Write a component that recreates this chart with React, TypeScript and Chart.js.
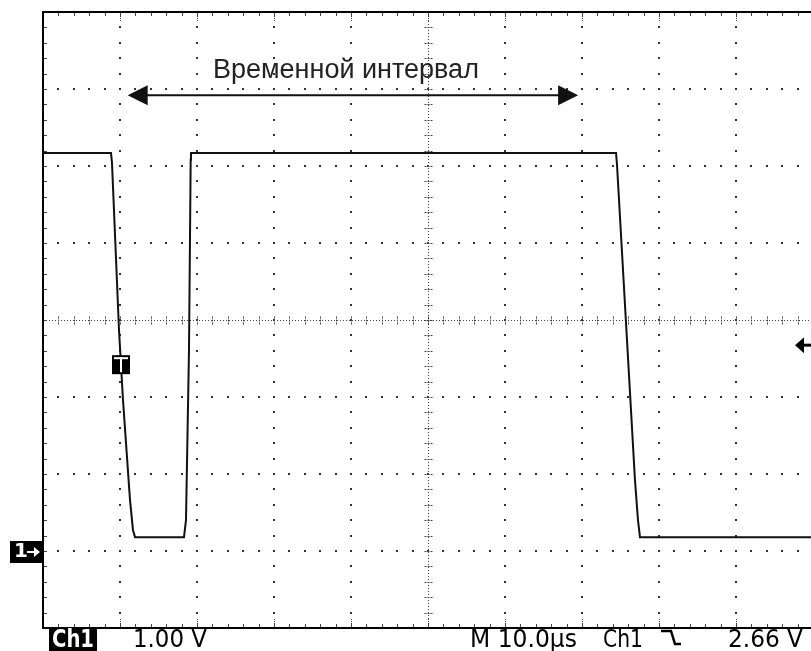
import React, { useEffect, useRef } from "react";
import { Chart, registerables } from "chart.js";

Chart.register(...registerables);

// Horizontal axis: time in µs (10 µs / div), vertical: volts (1 V / div)
const xGridUs = [0, 10, 20, 30, 40, 50, 60, 70, 80, 90, 100];
const yGridV = [-1, 0, 1, 2, 3, 4, 5, 6, 7];

// Ch1 trace (time µs, volts)
const timeUs = [0, 8.83, 8.96, 9.87, 10.39, 11.3, 11.69, 11.95, 18.31, 18.57, 18.96, 19.18, 19.22, 74.42, 74.55, 76.88, 77.27, 77.53, 100];
const volts = [5.17, 5.17, 5.04, 2.87, 1.96, 0.66, 0.27, 0.18, 0.18, 0.4, 2.61, 5.08, 5.17, 5.17, 5.01, 0.92, 0.4, 0.18, 0.18];

// Annotation: time interval arrow
const intervalLabel = "Временной интервал";
const intervalStartUs = 11.0;
const intervalEndUs = 69.5;
const intervalLevelV = 5.92;

// Trigger
const triggerTimeUs = 10;
const triggerLevelV = 2.66;
const groundV = 0;

// Readout texts
const chLabel = "Ch1";
const voltsPerDivText = "1.00 V";
const timePerDivText = "M 10.0µs";
const trigSourceText = "Ch1";
const trigLevelText = "2.66 V";

function drawFitted(ctx: CanvasRenderingContext2D, text: string, x: number, baseline: number, width: number, font: string, color: string) {
  ctx.save();
  ctx.font = font;
  ctx.fillStyle = color;
  ctx.textBaseline = "alphabetic";
  ctx.textAlign = "left";
  const w = ctx.measureText(text).width;
  ctx.translate(x, baseline);
  ctx.scale(width / w, 1);
  ctx.fillText(text, 0, 0);
  ctx.restore();
}

const graticulePlugin = {
  id: "graticule",
  beforeDatasetsDraw(chart: any) {
    const ctx: CanvasRenderingContext2D = chart.ctx;
    const xs = chart.scales.x;
    const ys = chart.scales.y;
    const { left, top, bottom } = chart.chartArea;
    const px = (v: number) => xs.getPixelForValue(v);
    const py = (v: number) => ys.getPixelForValue(v);
    const xDiv = xGridUs[1] - xGridUs[0];
    const yDiv = yGridV[1] - yGridV[0];
    const xMin = xGridUs[0], xMax = xGridUs[xGridUs.length - 1];
    const yMin = yGridV[0], yMax = yGridV[yGridV.length - 1];
    const xMid = xGridUs[Math.floor(xGridUs.length / 2)];
    const yMid = yGridV[Math.floor(yGridV.length / 2)];
    const xMinor: number[] = [];
    const yMinor: number[] = [];
    for (let i = 0; i <= (xGridUs.length - 1) * 5; i++) xMinor.push(xMin + (i * xDiv) / 5);
    for (let i = 0; i <= (yGridV.length - 1) * 5; i++) yMinor.push(yMin + (i * yDiv) / 5);

    ctx.save();
    ctx.fillStyle = "#333";
    xGridUs.forEach((gx) => {
      if (gx === xMin || gx === xMax || gx === xMid) return;
      const X = Math.round(px(gx));
      yMinor.forEach((v) => ctx.fillRect(X - 1, Math.round(py(v)) - 1, 2, 2));
    });
    yGridV.forEach((gy) => {
      if (gy === yMin || gy === yMax || gy === yMid) return;
      const Y = Math.round(py(gy));
      xMinor.forEach((t) => ctx.fillRect(Math.round(px(t)) - 1, Y - 1, 2, 2));
    });

    // center crosshair
    ctx.strokeStyle = "#444";
    ctx.lineWidth = 1;
    const cx = Math.round(px(xMid)) + 0.5;
    const cy = Math.round(py(yMid)) + 0.5;
    ctx.setLineDash([1, 2]);
    ctx.beginPath();
    ctx.moveTo(cx, top);
    ctx.lineTo(cx, bottom);
    ctx.moveTo(left, cy);
    ctx.lineTo(px(xMax), cy);
    ctx.stroke();
    ctx.setLineDash([2, 1]);
    ctx.beginPath();
    yMinor.forEach((v) => {
      const Y = Math.round(py(v)) + 0.5;
      ctx.moveTo(cx - 4, Y);
      ctx.lineTo(cx + 5, Y);
    });
    xMinor.forEach((t) => {
      const X = Math.round(px(t)) + 0.5;
      ctx.moveTo(X, cy - 4);
      ctx.lineTo(X, cy + 5);
    });
    ctx.stroke();

    // border ticks
    ctx.setLineDash([]);
    ctx.beginPath();
    xMinor.forEach((t) => {
      const X = Math.round(px(t)) + 0.5;
      ctx.moveTo(X, top);
      ctx.lineTo(X, top + 4);
      ctx.moveTo(X, bottom);
      ctx.lineTo(X, bottom - 4);
    });
    yMinor.forEach((v) => {
      const Y = Math.round(py(v)) + 0.5;
      ctx.moveTo(left, Y);
      ctx.lineTo(left + 4, Y);
    });
    ctx.stroke();
    ctx.setLineDash([1, 1]);
    ctx.beginPath();
    xGridUs.forEach((gx) => {
      const X = Math.round(px(gx)) + 0.5;
      ctx.moveTo(X, top);
      ctx.lineTo(X, top + 10);
      ctx.moveTo(X, bottom);
      ctx.lineTo(X, bottom - 10);
    });
    ctx.stroke();
    ctx.setLineDash([]);

    // frame
    ctx.strokeStyle = "#000";
    ctx.lineWidth = 2;
    ctx.beginPath();
    ctx.moveTo(px(xMax) + 5, top);
    ctx.lineTo(left, top);
    ctx.lineTo(left, bottom);
    ctx.lineTo(px(xMax) + 5, bottom);
    ctx.stroke();
    ctx.restore();
  },
  afterDatasetsDraw(chart: any) {
    const ctx: CanvasRenderingContext2D = chart.ctx;
    const xs = chart.scales.x;
    const ys = chart.scales.y;
    const { left, bottom } = chart.chartArea;
    const px = (v: number) => xs.getPixelForValue(v);
    const py = (v: number) => ys.getPixelForValue(v);
    ctx.save();

    // interval double arrow
    const ax1 = px(intervalStartUs);
    const ax2 = px(intervalEndUs);
    const ay = py(intervalLevelV);
    ctx.strokeStyle = "#111";
    ctx.fillStyle = "#111";
    ctx.lineWidth = 2;
    ctx.beginPath();
    ctx.moveTo(ax1 + 15, ay);
    ctx.lineTo(ax2 - 15, ay);
    ctx.stroke();
    ctx.beginPath();
    ctx.moveTo(ax1, ay);
    ctx.lineTo(ax1 + 20, ay - 10);
    ctx.lineTo(ax1 + 20, ay + 10);
    ctx.closePath();
    ctx.fill();
    ctx.beginPath();
    ctx.moveTo(ax2, ay);
    ctx.lineTo(ax2 - 20, ay - 10);
    ctx.lineTo(ax2 - 20, ay + 10);
    ctx.closePath();
    ctx.fill();
    ctx.font = '27px "Liberation Sans", Arial, sans-serif';
    ctx.fillStyle = "#222";
    ctx.textAlign = "center";
    ctx.textBaseline = "alphabetic";
    ctx.fillText(intervalLabel, (ax1 + ax2) / 2 - 7, ay - 17);

    // trigger position marker "T"
    const tx = px(triggerTimeUs) + 1;
    const ty = py(triggerLevelV) + 19;
    ctx.fillStyle = "#000";
    ctx.fillRect(tx - 9, ty - 10, 18, 19);
    ctx.fillStyle = "#fff";
    ctx.fillRect(tx - 7, ty - 8, 14, 2);
    ctx.fillRect(tx - 1, ty - 8, 2, 15);

    // ground marker "1→"
    const gy = py(groundV);
    ctx.fillStyle = "#000";
    ctx.fillRect(10, gy - 10, left - 10, 22);
    ctx.fillStyle = "#fff";
    ctx.font = 'bold 20px "DejaVu Sans", sans-serif';
    ctx.textAlign = "left";
    ctx.textBaseline = "middle";
    ctx.fillText("1", 14, gy + 1);
    ctx.strokeStyle = "#fff";
    ctx.lineWidth = 2;
    ctx.beginPath();
    ctx.moveTo(27, gy + 1);
    ctx.lineTo(37, gy + 1);
    ctx.stroke();
    ctx.beginPath();
    ctx.moveTo(40, gy + 1);
    ctx.lineTo(34, gy - 4);
    ctx.lineTo(34, gy + 6);
    ctx.closePath();
    ctx.fill();

    // trigger level arrow on right edge
    const ly = py(triggerLevelV) - 1;
    ctx.fillStyle = "#000";
    ctx.strokeStyle = "#000";
    ctx.lineWidth = 3;
    ctx.beginPath();
    ctx.moveTo(802, ly);
    ctx.lineTo(815, ly);
    ctx.stroke();
    ctx.beginPath();
    ctx.moveTo(795, ly);
    ctx.lineTo(804, ly - 8);
    ctx.lineTo(804, ly + 8);
    ctx.closePath();
    ctx.fill();

    // readouts below the graticule
    const base = bottom + 19;
    ctx.fillStyle = "#000";
    ctx.fillRect(49, bottom + 1, 48, 30);
    drawFitted(ctx, chLabel, 52, base, 42, 'bold 25px "DejaVu Sans", sans-serif', "#fff");
    const readFont = '25px "DejaVu Sans", sans-serif';
    drawFitted(ctx, voltsPerDivText, 133, base, 74, readFont, "#000");
    drawFitted(ctx, timePerDivText, 470, base, 107, readFont, "#000");
    drawFitted(ctx, trigSourceText, 603, base, 40, readFont, "#000");
    // falling slope symbol
    ctx.strokeStyle = "#000";
    ctx.lineWidth = 2.5;
    ctx.beginPath();
    ctx.moveTo(661, base - 16);
    ctx.lineTo(671, base - 16);
    ctx.lineTo(675, base - 3);
    ctx.lineTo(681, base - 3);
    ctx.stroke();
    drawFitted(ctx, trigLevelText, 728, base, 75, readFont, "#000");

    ctx.restore();
  },
};

export default function App() {
  const canvasRef = useRef<HTMLCanvasElement | null>(null);

  useEffect(() => {
    const canvas = canvasRef.current;
    if (!canvas) return;
    const chart = new Chart(canvas, {
      type: "line",
      data: {
        datasets: [
          {
            label: "Ch1",
            data: timeUs.map((t, i) => ({ x: t, y: volts[i] })),
            borderColor: "#111",
            borderWidth: 2,
            pointRadius: 0,
            tension: 0,
            fill: false,
          },
        ],
      },
      options: {
        responsive: false,
        animation: false,
        devicePixelRatio: 1,
        layout: { padding: { left: 43, top: 12, right: 17, bottom: 23 } },
        plugins: {
          legend: { display: false },
          tooltip: { enabled: false },
          title: { display: false },
        },
        scales: {
          x: {
            type: "linear",
            min: xGridUs[0],
            max: xGridUs[xGridUs.length - 1],
            display: false,
          },
          y: {
            type: "linear",
            min: yGridV[0],
            max: yGridV[yGridV.length - 1],
            display: false,
          },
        },
      },
      plugins: [graticulePlugin],
    });
    return () => chart.destroy();
  }, []);

  return (
    <div
      style={{
        position: "fixed",
        left: 0,
        top: 0,
        width: 811,
        height: 651,
        overflow: "hidden",
        background: "#fff",
      }}
    >
      <canvas ref={canvasRef} width={830} height={651} style={{ display: "block" }} />
    </div>
  );
}
